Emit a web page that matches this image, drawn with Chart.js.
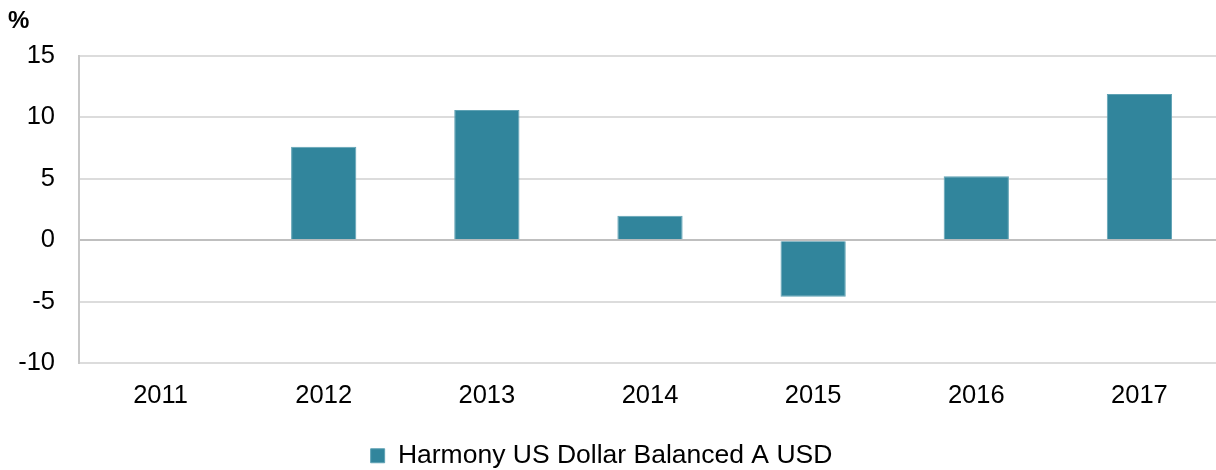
<!DOCTYPE html>
<html>
<head>
<meta charset="utf-8">
<script src="https://cdn.jsdelivr.net/npm/chart.js@4/dist/chart.umd.min.js"></script>
<style>
  html, body { margin: 0; padding: 0; overflow: hidden; background: #fff; }
  canvas { display: block; }
</style>
</head>
<body>
<canvas id="c" width="1221" height="470"></canvas>
<script>
const categories = ['2011', '2012', '2013', '2014', '2015', '2016', '2017'];
const seriesName = 'Harmony US Dollar Balanced A USD';
const seriesValues = [null, 7.6, 10.6, 2.0, -4.6, 5.2, 11.9];
const yTickValues = [-10, -5, 0, 5, 10, 15];
const unitLabel = '%';

const FONT = "'Liberation Sans', Arial, sans-serif";

const legendShift = {
  id: 'legendShift',
  afterLayout(chart) {
    const lg = chart.legend;
    if (!lg) return;
    const dx = -13, dy = 9;
    lg.left += dx; lg.right += dx;
    lg.top += dy; lg.bottom += dy;
  }
};

new Chart(document.getElementById('c'), {
  type: 'bar',
  data: {
    labels: categories,
    datasets: [{
      label: seriesName,
      data: seriesValues,
      backgroundColor: '#31859C',
      borderColor: '#5fa2b4',
      borderWidth: 1,
      barPercentage: 1,
      categoryPercentage: 0.4
    }]
  },
  options: {
    responsive: false,
    animation: false,
    layout: { padding: { left: 8, right: 0, top: 0, bottom: 0 } },
    plugins: {
      title: {
        display: true,
        text: unitLabel,
        align: 'start',
        color: '#000',
        font: { family: FONT, size: 24, weight: 'bold' },
        padding: { top: 6.5, bottom: 20.7 }
      },
      legend: {
        display: true,
        position: 'bottom',
        labels: {
          color: '#000',
          font: { family: FONT, size: 26.5 },
          boxWidth: 14,
          boxHeight: 14,
          padding: 4
        }
      },
      tooltip: { enabled: false }
    },
    scales: {
      x: {
        grid: { display: false, drawTicks: false },
        border: { display: false },
        ticks: {
          color: '#000',
          font: { family: FONT, size: 25.5 },
          padding: 17.5,
          maxRotation: 0
        },
        afterFit(axis) { axis.height = 66.5; }
      },
      y: {
        min: yTickValues[0],
        max: yTickValues[yTickValues.length - 1],
        afterBuildTicks(axis) { axis.ticks = yTickValues.map(v => ({ value: v })); },
        grid: {
          drawTicks: false,
          lineWidth: 2,
          color: (ctx) => (ctx.tick && ctx.tick.value === 0) ? '#bfbfbf' : '#dcdcdc'
        },
        border: { display: true, color: '#c8c8c8', width: 2 },
        ticks: {
          color: '#000',
          font: { family: FONT, size: 25.5 },
          padding: 24
        },
        afterFit(axis) { axis.width = 71; }
      }
    }
  },
  plugins: [legendShift]
});
</script>
</body>
</html>
